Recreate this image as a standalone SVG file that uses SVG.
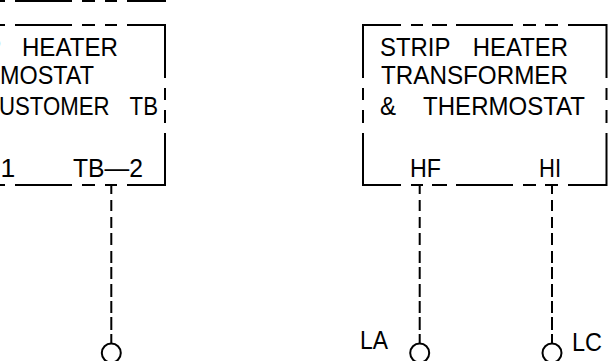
<svg xmlns="http://www.w3.org/2000/svg" width="612" height="361" viewBox="0 0 612 361">
<style>
.l{fill:none;stroke:#000;stroke-width:2}
.t{font-family:"Liberation Sans",Arial,sans-serif;font-size:26.500px;fill:#000}
</style>
<rect width="612" height="361" fill="#fff"/>
<g id="upper-box-fragment">
<path class="l" d="M0 1H5M15 1H72M82 1H95M105 1H117M127 1H165V0"/>
</g>
<g id="left-box">
<path class="l" d="M0 25H5M15 25H72M82 25H95M105 25H117M127 25H165V78M165 88V100M165 110V123M165 133V185H127M117 185H105M95 185H82M72 185H15M5 185H0"/>
<text class="t" x="-15" y="56" textLength="133" lengthAdjust="spacingAndGlyphs" word-spacing="16">P HEATER</text>
<text class="t" x="0" y="83.500" textLength="94" lengthAdjust="spacingAndGlyphs">MOSTAT</text>
<text class="t" x="-1" y="115" textLength="159" lengthAdjust="spacingAndGlyphs" word-spacing="17">USTOMER TB</text>
<text class="t" x="0.500" y="177">1</text>
<text class="t" x="73" y="177" textLength="70" lengthAdjust="spacingAndGlyphs">TB—2</text>
</g>
<g id="right-box">
<path class="l" d="M401 25H363V78M363 88V100M363 110V123M363 133V185H401M411 185H423M432 185H447M456 185H513M523 185H536M545 185H558M568 185H606.500V133M606.500 123V110M606.500 100V88M606.500 78V25H568M558 25H545M536 25H523M513 25H456M447 25H432M423 25H411"/>
<text class="t" x="380" y="56" textLength="188" lengthAdjust="spacingAndGlyphs" word-spacing="18">STRIP HEATER</text>
<text class="t" x="381" y="83.500" textLength="187" lengthAdjust="spacingAndGlyphs">TRANSFORMER</text>
<text class="t" x="380" y="115" textLength="205" lengthAdjust="spacingAndGlyphs" word-spacing="23">&amp; THERMOSTAT</text>
<text class="t" x="410" y="177" textLength="31" lengthAdjust="spacingAndGlyphs">HF</text>
<text class="t" x="539" y="177" textLength="22" lengthAdjust="spacingAndGlyphs">HI</text>
</g>
<g id="terminal-left">
<circle class="l" cx="111.300" cy="353" r="9.500"/>
</g>
<g id="terminal-la">
<circle class="l" cx="419.700" cy="353" r="9.500"/>
<text class="t" x="360" y="349" textLength="28" lengthAdjust="spacingAndGlyphs">LA</text>
</g>
<g id="terminal-lc">
<circle class="l" cx="552" cy="353" r="9.500"/>
<text class="t" x="572" y="351" textLength="30" lengthAdjust="spacingAndGlyphs">LC</text>
</g>
<g id="connectors">
<path id="stem-left" class="l" d="M111.300 185V194M111.300 200V211M111.300 217V228M111.300 233V245M111.300 251V263M111.300 267V279M111.300 284V297M111.300 301V313M111.300 317V330M111.300 334V344"/>
<path id="stem-hf" class="l" d="M419.700 185V194M419.700 200V211M419.700 217V228M419.700 233V245M419.700 251V263M419.700 267V279M419.700 284V297M419.700 301V313M419.700 317V330M419.700 334V344"/>
<path id="stem-hi" class="l" d="M552 185V194M552 200V211M552 217V228M552 233V245M552 251V263M552 267V279M552 284V297M552 301V313M552 317V330M552 334V344"/>
</g>
</svg>
